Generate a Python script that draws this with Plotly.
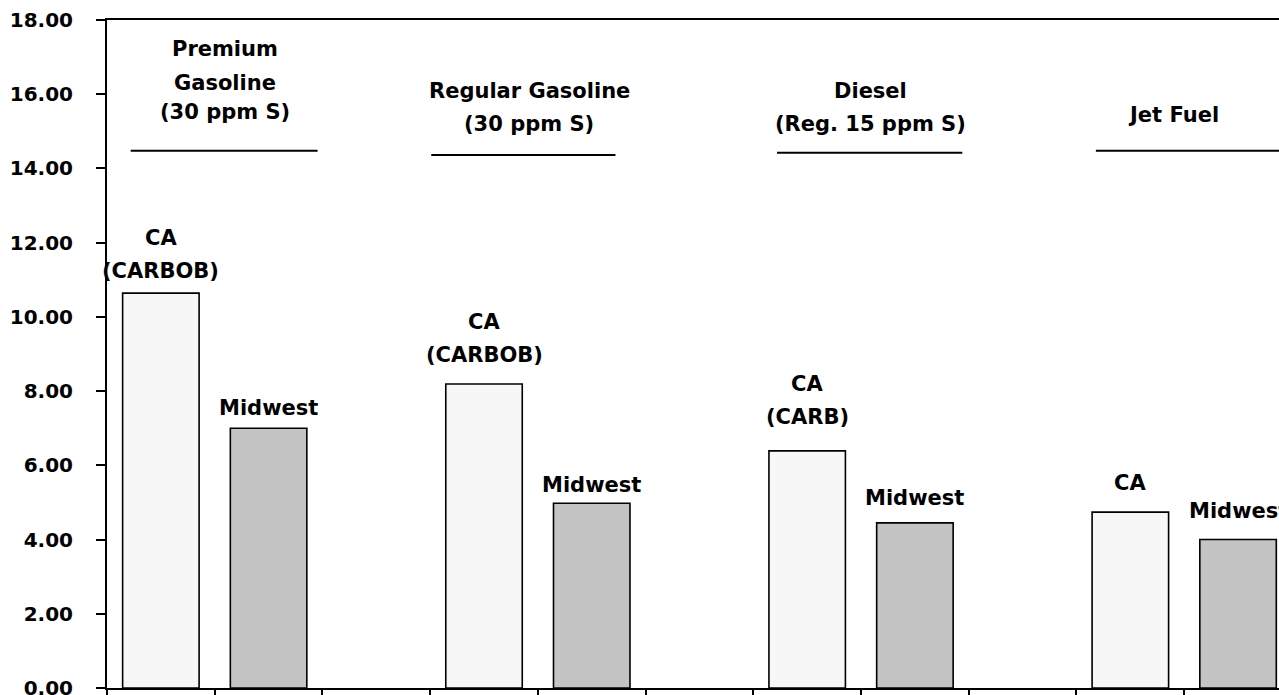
import plotly.graph_objects as go

# ---------------- data ----------------
fuels = ["Premium Gasoline (30 ppm S)", "Regular Gasoline (30 ppm S)",
         "Diesel (Reg. 15 ppm S)", "Jet Fuel"]
header_lines = [["Premium", "Gasoline", "(30 ppm S)"],
                ["Regular Gasoline", "(30 ppm S)"],
                ["Diesel", "(Reg. 15 ppm S)"],
                ["Jet Fuel"]]
regions = ["CA", "Midwest"]
ca_values = [10.64, 8.19, 6.39, 4.74]
midwest_values = [7.00, 4.98, 4.45, 4.00]
ca_labels = [["CA", "(CARBOB)"], ["CA", "(CARBOB)"], ["CA", "(CARB)"], ["CA"]]
midwest_labels = [["Midwest"], ["Midwest"], ["Midwest"], ["Midwest"]]
y_ticks = [0, 2, 4, 6, 8, 10, 12, 14, 16, 18]

# ---------------- layout constants ----------------
FONT = "DejaVu Sans"
LABEL_SIZE = 21
CA_COLOR = "#f7f7f7"
MW_COLOR = "#c4c4c4"
BAR_W = 0.71
SLOTS_PER_FUEL = 3
X_MAX = 10.38
# per-bar pixel offset (bottom label line above bar top)
ca_label_shift = [22, 29, 34, 29]
mw_label_shift = [20, 18, 25, 29]
LINE_GAP = 33
# header placement (x centre in slot units, y of each line in data units, underline)
header_x = [0.60, 3.42, 6.59, 9.40]
header_y = [[17.21, 16.30, 15.52], [16.09, 15.20], [16.09, 15.20], [15.44]]
underline = [(-0.28, 1.455, 14.48), (2.51, 4.22, 14.36),
             (5.72, 7.44, 14.42), (8.68, X_MAX, 14.48)]

ca_x = [SLOTS_PER_FUEL * i for i in range(len(fuels))]
mw_x = [SLOTS_PER_FUEL * i + 1 for i in range(len(fuels))]

fig = go.Figure()
fig.add_bar(x=ca_x, y=ca_values, width=BAR_W, name=regions[0],
            marker=dict(color=CA_COLOR, line=dict(color="black", width=1.6)))
fig.add_bar(x=mw_x, y=midwest_values, width=BAR_W, name=regions[1],
            marker=dict(color=MW_COLOR, line=dict(color="black", width=1.6)))

annotations = []
lab_font = dict(family=FONT, size=LABEL_SIZE, color="black", weight="bold")


def add_bar_labels(xs, vals, labels, shifts):
    for x, v, lines, s in zip(xs, vals, labels, shifts):
        n = len(lines)
        for k, t in enumerate(lines):
            annotations.append(dict(
                x=x, y=v, xref="x", yref="y", text=t, showarrow=False,
                xanchor="center", yanchor="middle",
                yshift=s + (n - 1 - k) * LINE_GAP, font=lab_font))


add_bar_labels(ca_x, ca_values, ca_labels, ca_label_shift)
add_bar_labels(mw_x, midwest_values, midwest_labels, mw_label_shift)

shapes = []
for i, lines in enumerate(header_lines):
    for k, t in enumerate(lines):
        annotations.append(dict(
            x=header_x[i], y=header_y[i][k], xref="x", yref="y", text=t,
            showarrow=False, xanchor="center", yanchor="middle", font=lab_font))
    x0, x1, yy = underline[i]
    shapes.append(dict(type="line", xref="x", yref="y", x0=x0, x1=x1,
                       y0=yy, y1=yy, line=dict(color="black", width=2)))

fig.update_layout(
    width=1279, height=695, autosize=False,
    margin=dict(l=107, r=0, t=20, b=7),
    paper_bgcolor="white", plot_bgcolor="white",
    barmode="overlay", showlegend=False,
    annotations=annotations, shapes=shapes,
)
fig.update_xaxes(
    range=[-0.5, X_MAX], showticklabels=False, ticks="outside",
    tickmode="linear", tick0=-0.5, dtick=1, ticklen=10, tickwidth=1.5,
    tickcolor="black", showline=True, linecolor="black", linewidth=2,
    mirror=True, showgrid=False, zeroline=False, automargin=False,
)
fig.update_yaxes(
    range=[0, 18], tickmode="array", tickvals=y_ticks, tickformat=".2f",
    ticks="outside", ticklen=9, tickwidth=1.5, tickcolor="black",
    showline=True, linecolor="black", linewidth=2, showgrid=False,
    zeroline=False, ticklabelstandoff=19, automargin=False,
    ticklabeloverflow="allow",
    tickfont=dict(family=FONT, size=20, color="black", weight="bold"),
)

fig.write_html(
    "out.html",
    config={"displayModeBar": False},
    post_script="document.body.style.margin='0';"
                "document.body.style.overflow='hidden';",
)
